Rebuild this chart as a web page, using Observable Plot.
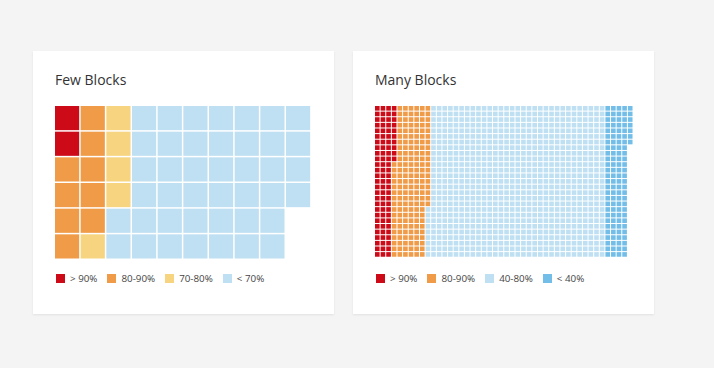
<!DOCTYPE html>
<html>
<head>
<meta charset="utf-8">
<script src="https://cdn.jsdelivr.net/npm/d3@7"></script>
<script src="https://cdn.jsdelivr.net/npm/@observablehq/plot@0.6"></script>
<style>
  html, body { margin: 0; padding: 0; }
  body { width: 714px; height: 368px; background: #f4f4f4; font-family: "Open Sans", sans-serif; position: relative; overflow: hidden; }
  .card { position: absolute; top: 51px; width: 301px; height: 263px; background: #fff; box-shadow: 0 1px 2px rgba(0,0,0,0.08); }
  .title { position: absolute; left: 22px; top: 21.6px; font-size: 14px; line-height: 14px; color: #333; white-space: nowrap; }
  .chart { position: absolute; left: 22px; top: 55px; }
  .chart svg { display: block; }
  .legend { position: absolute; left: 23px; top: 221px; display: flex; align-items: center; font-size: 9.8px; color: #444; height: 13px; }
  .legend .item { display: flex; align-items: center; margin-right: 10px; }
  .legend .sw { width: 9px; height: 9px; margin-right: 5px; }
</style>
</head>
<body>
<div class="card" id="card1" style="left:33px"><div class="title">Few Blocks</div><div class="chart"></div><div class="legend"></div></div>
<div class="card" id="card2" style="left:353px"><div class="title">Many Blocks</div><div class="chart"></div><div class="legend"></div></div>
<script>
// ---- data ----
const fewLabels = ["> 90%", "80-90%", "70-80%", "< 70%"];
const fewCounts = [2, 9, 5, 42];
const fewColors = ["#cc0a18", "#f09b48", "#f7d480", "#bfe0f2"];

const manyLabels = ["> 90%", "80-90%", "40-80%", "< 40%"];
const manyCounts = [91, 170, 846, 115];
const manyColors = ["#cc0a18", "#f09b48", "#bfe0f2", "#72bee8"];

// ---- layout (not data) ----
const charts = [
  {id: "card1", labels: fewLabels, counts: fewCounts, colors: fewColors, rows: 6, pitch: 25.67, gap: 1.5},
  {id: "card2", labels: manyLabels, counts: manyCounts, colors: manyColors, rows: 27, pitch: 5.62, gap: 1}
];

for (const c of charts) {
  const cells = [];
  c.labels.forEach((lab, k) => {
    for (let j = 0; j < c.counts[k]; j++) cells.push({cat: lab});
  });
  cells.forEach((d, i) => { d.col = Math.floor(i / c.rows); d.row = i % c.rows; });
  const cols = Math.ceil(cells.length / c.rows);
  const W = cols * c.pitch, H = c.rows * c.pitch;
  const plot = Plot.plot({
    width: W, height: H, margin: 0,
    style: {background: "transparent", overflow: "visible"},
    x: {domain: [0, cols], range: [0, W], axis: null},
    y: {domain: [0, c.rows], range: [0, H], axis: null},
    color: {domain: c.labels, range: c.colors},
    marks: [
      Plot.rect(cells, {
        x1: "col", x2: d => d.col + 1, y1: "row", y2: d => d.row + 1,
        fill: "cat", insetRight: c.gap, insetBottom: c.gap
      })
    ]
  });
  const card = document.getElementById(c.id);
  card.querySelector(".chart").appendChild(plot);
  const lg = card.querySelector(".legend");
  c.labels.forEach((lab, k) => {
    const it = document.createElement("div"); it.className = "item";
    const sw = document.createElement("div"); sw.className = "sw"; sw.style.background = c.colors[k];
    const tx = document.createElement("span"); tx.textContent = lab;
    it.appendChild(sw); it.appendChild(tx); lg.appendChild(it);
  });
}
</script>
</body>
</html>
